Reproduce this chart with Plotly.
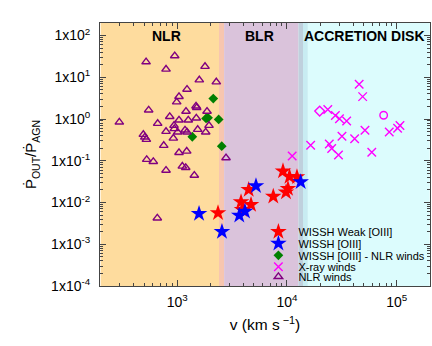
import math
import plotly.graph_objects as go

# ---------------- data ----------------
# NLR winds (open purple triangles)
nlr_v = [296, 519, 947, 789, 1789, 1587, 2267, 1226, 1036, 987, 548, 1481, 1503, 1200,
         1866, 853, 1036, 1259, 1490, 662, 933, 1945, 939, 789, 1175, 1226, 1534, 1815,
         1008, 490, 505, 522, 920, 752, 1036, 1218, 526, 604, 789, 1111, 1193, 1429,
         657, 2780]
nlr_p = [0.84, 23.3, 32.5, 15.6, 18.1, 8.6, 7.7, 5.15, 3.44, 2.55, 1.64, 2.04, 1.87, 1.52,
         1.52, 1.14, 0.94, 0.94, 1.05, 0.78, 0.70, 0.70, 0.585, 0.503, 0.541, 0.484, 0.562,
         0.484, 0.484, 0.426, 0.367, 0.323, 0.347, 0.232, 0.157, 0.169, 0.107, 0.0957,
         0.0591, 0.0738, 0.0687, 0.0448, 0.00424, 0.1175]

# WISSH [OIII] - NLR winds (green diamonds)
green_v = [2128, 1828, 1906, 2383, 1370, 2542]
green_p = [3.08, 1.03, 1.07, 0.98, 0.376, 0.223]

# WISSH Weak [OIII] (red stars)
red_v = [2350, 9196, 10540, 12330, 10210, 9790, 7500, 4475, 3810, 4700, 3890]
red_p = [0.0056, 0.0565, 0.0417, 0.041, 0.0215, 0.0177, 0.0140, 0.0203, 0.0103, 0.00885, 0.0067]

# WISSH [OIII] (blue stars)
blue_v = [1578, 2553, 3673, 4140, 5215, 13330]
blue_p = [0.0054, 0.00199, 0.0049, 0.0061, 0.0249, 0.0311]

# X-ray winds (magenta crosses)
xray_v = [45500, 48980, 23550, 27620, 30100, 35000, 51400, 31720, 41400, 16440, 24300,
          25560, 29480, 59300, 85600, 102000, 107200, 11150]
xray_p = [6.79, 3.44, 1.70, 1.22, 1.02, 0.891, 0.538, 0.388, 0.338, 0.234, 0.252,
          0.196, 0.137, 0.160, 0.490, 0.604, 0.70, 0.130]
xray_dia_v = [19860]
xray_dia_p = [1.55]
xray_circ_v = [76100]
xray_circ_p = [1.23]

# shaded regions: (v_start, v_end, colour)
region_lo = [200, 2400, 2670, 12700, 14000, 15500]
region_hi = [2400, 2670, 12700, 14000, 15500, 200000]
region_col = ["#FEDC9E", "#F7C6AF", "#DAC3DB", "#BFD0DD", "#C8ECF2", "#DCFCFD"]
region_names = ["NLR", "BLR", "ACCRETION DISK"]

x_tick_vals = [1e3, 1e4, 1e5]
x_tick_text = ["10<sup>3</sup>", "10<sup>4</sup>", "10<sup>5</sup>"]
y_tick_vals = [1e-4, 1e-3, 1e-2, 1e-1, 1e0, 1e1, 1e2]
y_tick_text = ["1x10<sup>-4</sup>", "1x10<sup>-3</sup>", "1x10<sup>-2</sup>", "1x10<sup>-1</sup>",
               "1x10<sup>0</sup>", "1x10<sup>1</sup>", "1x10<sup>2</sup>"]

x_minor = [m * 10 ** e for e in range(2, 6) for m in range(2, 10) if 200 <= m * 10 ** e <= 2e5]
y_minor = [m * 10.0 ** e for e in range(-4, 3) for m in range(2, 10) if m * 10.0 ** e <= 200]

FONT = "Liberation Sans, Arial, Helvetica, sans-serif"

fig = go.Figure()

fig.add_trace(go.Scatter(
    x=red_v, y=red_p, mode="markers", name="WISSH Weak [OIII]", legend="legend",
    marker=dict(symbol="star", size=12.5, color="#FF0000", line=dict(width=0))))
fig.add_trace(go.Scatter(
    x=blue_v, y=blue_p, mode="markers", name="WISSH [OIII]", legend="legend2",
    marker=dict(symbol="star", size=12.5, color="#0000FF", line=dict(width=0))))
fig.add_trace(go.Scatter(
    x=green_v, y=green_p, mode="markers", name="WISSH [OIII] - NLR winds", legend="legend3",
    marker=dict(symbol="diamond", size=7.5, color="#008000", line=dict(width=0))))
fig.add_trace(go.Scatter(
    x=xray_v, y=xray_p, mode="markers", name="X-ray winds", legend="legend4",
    marker=dict(symbol="x-thin", size=8.5, color="#FF00FF", line=dict(width=1.4, color="#FF00FF"))))
fig.add_trace(go.Scatter(
    x=xray_dia_v, y=xray_dia_p, mode="markers", showlegend=False,
    marker=dict(symbol="diamond-open", size=7.5, color="#FF00FF", line=dict(width=1.4))))
fig.add_trace(go.Scatter(
    x=xray_circ_v, y=xray_circ_p, mode="markers", showlegend=False,
    marker=dict(symbol="circle-open", size=7.5, color="#FF00FF", line=dict(width=1.4))))
fig.add_trace(go.Scatter(
    x=nlr_v, y=nlr_p, mode="markers", name="NLR winds", legend="legend5",
    marker=dict(symbol="triangle-up-open", size=7.5, color="#800080", line=dict(width=1.4))))

shapes = []
for lo, hi, col in zip(region_lo, region_hi, region_col):
    shapes.append(dict(type="rect", xref="x", yref="paper", x0=lo, x1=hi, y0=0, y1=1,
                       fillcolor=col, line=dict(width=0), layer="below"))

annots = []
for name, xp in zip(region_names, [0.202, 0.483, 0.80]):
    annots.append(dict(text="<b>%s</b>" % name, x=xp, y=0.949, xref="paper", yref="paper",
                       showarrow=False, xanchor="center", yanchor="middle",
                       font=dict(family=FONT, size=14, color="black")))

axis_common = dict(
    type="log", showgrid=False, zeroline=False, showline=True, linecolor="#444444",
    linewidth=1, mirror="allticks", ticks="inside", ticklen=6, tickcolor="#444444",
    tickfont=dict(family=FONT, size=14, color="black"),
)

fig.update_xaxes(**axis_common, range=[math.log10(200) - 0.006, math.log10(2e5) + 0.003],
                 tickvals=x_tick_vals, ticktext=x_tick_text, ticklabelstandoff=3,
                 minor=dict(tickvals=x_minor, ticks="inside", ticklen=3, tickcolor="#444444",
                            showgrid=False),
                 title=dict(text="v (km s<sup> −1</sup>)", standoff=10,
                            font=dict(family=FONT, size=15.5, color="black")))
fig.update_yaxes(**axis_common, range=[-4, 2.3],
                 tickvals=y_tick_vals, ticktext=y_tick_text, ticklabelstandoff=6,
                 minor=dict(tickvals=y_minor, ticks="inside", ticklen=3, tickcolor="#444444",
                            showgrid=False),
                 title=dict(text="Ṗ<sub>OUT</sub>/Ṗ<sub>AGN</sub>", standoff=10,
                            font=dict(family=FONT, size=15, color="black")))

leg_rows = [0.2065, 0.162, 0.1167, 0.0734, 0.0354]
leg_common = dict(x=0.48, xanchor="left", yanchor="middle", bgcolor="rgba(0,0,0,0)",
                  font=dict(family=FONT, size=11, color="black"), borderwidth=0,
                  itemwidth=30)
fig.update_layout(
    width=432, height=346,
    margin=dict(l=100, r=2, t=23, b=60, autoexpand=False),
    paper_bgcolor="white", plot_bgcolor="white",
    shapes=shapes, annotations=annots,
    legend=dict(**leg_common, y=leg_rows[0]),
    legend2=dict(**leg_common, y=leg_rows[1]),
    legend3=dict(**leg_common, y=leg_rows[2]),
    legend4=dict(**leg_common, y=leg_rows[3]),
    legend5=dict(**leg_common, y=leg_rows[4]),
    font=dict(family=FONT, color="black"),
)

fig.write_html("out.html", config={"displayModeBar": False},
               post_script="document.body.style.margin='0';document.body.style.overflow='hidden';")
